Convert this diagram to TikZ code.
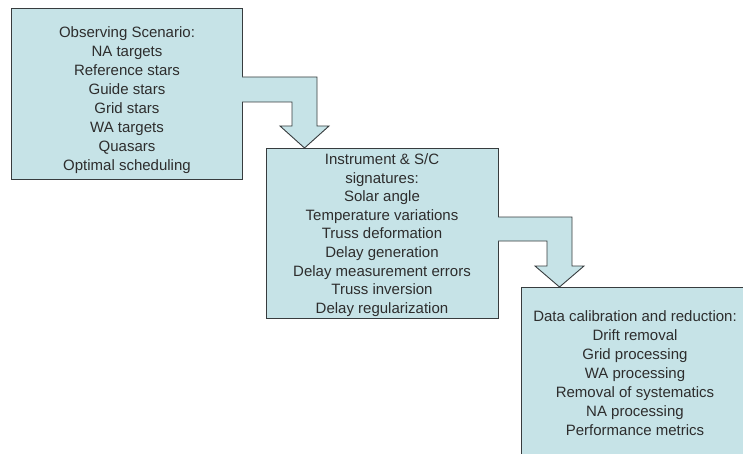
\documentclass[tikz,border=0pt]{standalone}
\usepackage{fontspec}
\setmainfont{Liberation Sans}
\usetikzlibrary{calc}
\definecolor{boxfill}{RGB}{198,227,231}
\definecolor{boxline}{RGB}{55,60,62}
\definecolor{txt}{RGB}{45,45,45}
\begin{document}
\begin{tikzpicture}[x=1pt,y=-1pt,
  box/.style={draw=boxline, fill=boxfill, line width=0.9pt, rectangle, inner sep=0pt, outer sep=0pt},
  boxtext/.style={text=txt, align=center, font=\fontsize{15}{19}\selectfont, inner sep=0pt},
  fat/.style={draw=boxline, fill=boxfill, line width=0.9pt, line join=miter}]
\useasboundingbox (0,0) rectangle (743,454);
\begin{scope}
\clip (0,0) rectangle (743,454);
\node[box, minimum width=231pt, minimum height=171pt, anchor=north west] (b1) at (11,8) {};
\node[box, minimum width=232pt, minimum height=170pt, anchor=north west] (b2) at (266,148) {};
\node[box, minimum width=240pt, minimum height=180pt, anchor=north west] (b3) at (521,287) {};

\node[boxtext] (t1) at (127,100) {Observing Scenario:\\NA targets\\Reference stars\\Guide stars\\Grid stars\\WA targets\\Quasars\\Optimal scheduling};
\node[boxtext, font=\fontsize{15}{18.6}\selectfont] (t2) at (382,235) {Instrument \& S/C\\signatures:\\Solar angle\\Temperature variations\\Truss deformation\\Delay generation\\Delay measurement errors\\Truss inversion\\Delay regularization};
\node[boxtext] (t3) at (635,373.5) {Data calibration and reduction:\\Drift removal\\Grid processing\\WA processing\\Removal of systematics\\NA processing\\Performance metrics};

\draw[fat] ($(b1.north east)+(0,69)$) -- ++(75,0) -- ++(0,49) -- ++(12,0)
  -- ($(b2.north west)+(38.5,0)$) -- ($(b1.north east)+(38,118)$) -- ++(12,0)
  -- ($(b1.north east)+(50,94)$) -- ($(b1.north east)+(0,94)$);
\draw[fat] ($(b2.north east)+(0,69)$) -- ++(74,0) -- ++(0,49) -- ++(12,0)
  -- ($(b3.north west)+(38.5,0)$) -- ($(b2.north east)+(37,118)$) -- ++(12,0)
  -- ($(b2.north east)+(49,93)$) -- ($(b2.north east)+(0,93)$);
\end{scope}
\end{tikzpicture}
\end{document}
